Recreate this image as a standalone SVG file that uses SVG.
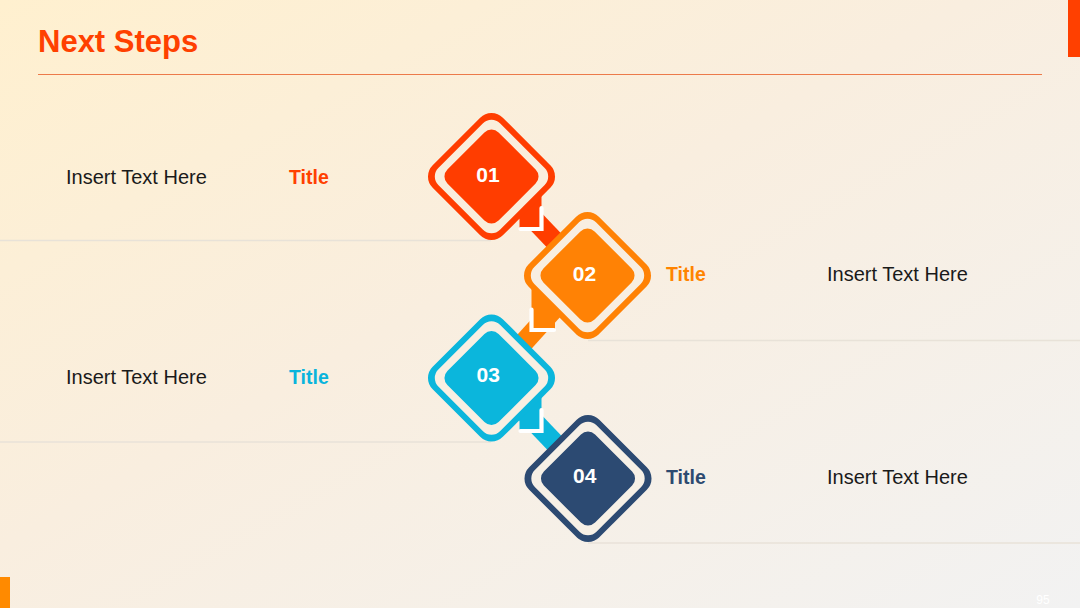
<svg xmlns="http://www.w3.org/2000/svg" width="1080" height="608" viewBox="0 0 1080 608">
<defs>
<linearGradient id="bg" x1="0" y1="0" x2="1" y2="1">
<stop offset="0" stop-color="#FFF0CF"/>
<stop offset="0.45" stop-color="#F9EEDF"/>
<stop offset="1" stop-color="#F2F2F2"/>
</linearGradient>
<style>
.body{font-family:"Liberation Sans",Arial,sans-serif;font-size:20px;fill:#1A1A1A}
.ttl{font-family:"Liberation Sans",Arial,sans-serif;font-size:19.5px;font-weight:bold}
.num{font-family:"Liberation Sans",Arial,sans-serif;font-size:21px;font-weight:bold;fill:#FFFFFF;text-anchor:middle}
.rule{stroke:#E8E2D8;stroke-width:1.5;fill:none}
.chev{fill:none;stroke:#FFFFFF;stroke-width:4.2;stroke-linecap:round;stroke-linejoin:miter}
</style>
</defs>
<rect x="0" y="0" width="1080" height="608" fill="url(#bg)"/>
<rect x="1068" y="0" width="12" height="57" fill="#FF4000"/>
<rect x="0" y="577" width="10" height="31" fill="#FF8A00"/>
<text x="38" y="52" font-family="Liberation Sans, Arial, sans-serif" font-size="31" font-weight="bold" fill="#FF4000">Next Steps</text>
<line x1="38" y1="74.5" x2="1042" y2="74.5" stroke="#EC7A4A" stroke-width="1.2"/>
<text x="1043" y="604" font-family="Liberation Sans, Arial, sans-serif" font-size="12" fill="#FFFFFF" text-anchor="middle">95</text>

<g id="rules">
<line class="rule" x1="0" y1="240.5" x2="491" y2="240.5"/>
<line class="rule" x1="588" y1="340.5" x2="1080" y2="340.5"/>
<line class="rule" x1="0" y1="442" x2="491" y2="442"/>
<line class="rule" x1="588" y1="543" x2="1080" y2="543"/>
</g>

<g id="connectors">
<g id="c1" transform="translate(491.5,176.5)" fill="#FF3D00">
<polygon points="40.57,26.43 103.07,91.93 88.93,106.07 26.43,40.57"/>
<polygon points="28,52.5 50,52.5 50,17 28,39"/>
<polyline class="chev" points="29,52.5 50,52.5 50,31.5"/>
</g>
<g id="c2" fill="#FF8205">
<polygon points="546.93,301.93 561.07,316.07 498.57,385.07 484.43,370.93"/>
<polygon points="531.5,330 555,330 555,310 531.5,286.5"/>
<polyline class="chev" points="531.5,309.5 531.5,330 554,330"/>
</g>
<g id="c3" transform="translate(491.5,378.5)" fill="#0BB6DC">
<polygon points="40.57,26.43 103.07,91.93 88.93,106.07 26.43,40.57"/>
<polygon points="28,52.5 50,52.5 50,17 28,39"/>
<polyline class="chev" points="29,52.5 50,52.5 50,31.5"/>
</g>
</g>

<g id="node1">
<g transform="translate(491.5,176.5) rotate(45)">
<rect x="-49.6" y="-49.6" width="99.2" height="99.2" rx="16" fill="#FF3D00"/>
<rect x="-43.6" y="-43.6" width="87.2" height="87.2" rx="12" fill="#FAEEDC"/>
<rect x="-36.2" y="-36.2" width="72.4" height="72.4" rx="10" fill="#FF3D00"/>
</g>
<text class="num" x="488" y="181.5">01</text>
</g>
<g id="node2">
<g transform="translate(587.5,275.5) rotate(45)">
<rect x="-49.6" y="-49.6" width="99.2" height="99.2" rx="16" fill="#FF8205"/>
<rect x="-43.6" y="-43.6" width="87.2" height="87.2" rx="12" fill="#F8EEE1"/>
<rect x="-36.2" y="-36.2" width="72.4" height="72.4" rx="10" fill="#FF8205"/>
</g>
<text class="num" x="584.5" y="280.5">02</text>
</g>
<g id="node3">
<g transform="translate(491.5,378) rotate(45)">
<rect x="-49.6" y="-49.6" width="99.2" height="99.2" rx="16" fill="#0BB6DC"/>
<rect x="-43.6" y="-43.6" width="87.2" height="87.2" rx="12" fill="#F8EFE2"/>
<rect x="-36.2" y="-36.2" width="72.4" height="72.4" rx="10" fill="#0BB6DC"/>
</g>
<text class="num" x="488.3" y="382">03</text>
</g>
<g id="node4">
<g transform="translate(588,478.5) rotate(45)">
<rect x="-49.6" y="-49.6" width="99.2" height="99.2" rx="16" fill="#2C4A72"/>
<rect x="-43.6" y="-43.6" width="87.2" height="87.2" rx="12" fill="#F6F0E6"/>
<rect x="-36.2" y="-36.2" width="72.4" height="72.4" rx="10" fill="#2C4A72"/>
</g>
<text class="num" x="584.7" y="483">04</text>
</g>

<g id="labels">
<text class="body" x="66" y="184">Insert Text Here</text>
<text class="ttl" x="289" y="184" fill="#FF4000">Title</text>
<text class="ttl" x="666" y="281" fill="#FF8400">Title</text>
<text class="body" x="827" y="281">Insert Text Here</text>
<text class="body" x="66" y="384">Insert Text Here</text>
<text class="ttl" x="289" y="384" fill="#0AB4DC">Title</text>
<text class="ttl" x="666" y="484" fill="#2D4A70">Title</text>
<text class="body" x="827" y="484">Insert Text Here</text>
</g>
</svg>
